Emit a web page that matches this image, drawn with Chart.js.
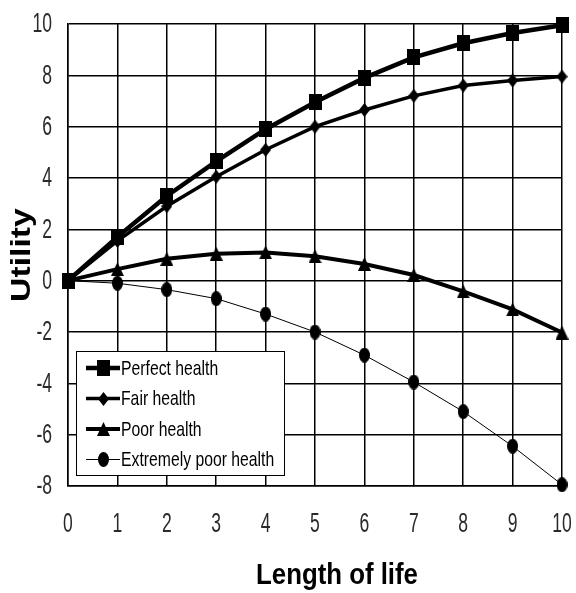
<!DOCTYPE html>
<html>
<head>
<meta charset="utf-8">
<style>
  html, body { margin: 0; padding: 0; background: #fff; }
  #wrap { width: 576px; height: 593px; }
</style>
<script src="https://cdn.jsdelivr.net/npm/chart.js@4.4.0/dist/chart.umd.min.js"></script>
</head>
<body>
<div id="wrap"><canvas id="chart" width="576" height="593"></canvas></div>
<script>
// data
const years = [0, 1, 2, 3, 4, 5, 6, 7, 8, 9, 10];
const perfectHealth = [0, 1.7, 3.3, 4.65, 5.9, 6.95, 7.9, 8.7, 9.25, 9.65, 9.95];
const fairHealth = [0, 1.55, 2.9, 4.05, 5.1, 6.0, 6.65, 7.2, 7.6, 7.8, 7.95];
const poorHealth = [0, 0.45, 0.85, 1.05, 1.1, 0.95, 0.65, 0.22, -0.42, -1.12, -2.02];
const extremelyPoorHealth = [0, -0.1, -0.35, -0.7, -1.3, -2.0, -2.9, -3.95, -5.1, -6.45, -7.95];

const seriesLabels = ['Perfect health', 'Fair health', 'Poor health', 'Extremely poor health'];
const xTitle = 'Length of life';
const yTitle = 'Utility';

const sans = '"Liberation Sans", Arial, sans-serif';

// the original picture is stretched upwards, so markers are taller than wide
function marker(w, h, shape) {
  const c = document.createElement('canvas');
  c.width = w;
  c.height = h;
  const g = c.getContext('2d');
  g.fillStyle = '#000';
  g.beginPath();
  if (shape === 'square') {
    g.rect(0, 0, w, h);
  } else if (shape === 'diamond') {
    g.moveTo(w / 2, 0); g.lineTo(w, h / 2); g.lineTo(w / 2, h); g.lineTo(0, h / 2);
  } else if (shape === 'triangle') {
    g.moveTo(w / 2, 0); g.lineTo(w, h); g.lineTo(0, h);
  } else {
    g.ellipse(w / 2, h / 2, w / 2, h / 2, 0, 0, Math.PI * 2);
  }
  g.closePath();
  g.fill();
  return c;
}

function pts(vals) {
  return vals.map((v, i) => ({ x: years[i], y: v }));
}

const datasets = [
  { label: seriesLabels[0], data: pts(perfectHealth), borderWidth: 4.5, pointStyle: marker(13, 16, 'square') },
  { label: seriesLabels[1], data: pts(fairHealth), borderWidth: 3.5, pointStyle: marker(11, 14, 'diamond') },
  { label: seriesLabels[2], data: pts(poorHealth), borderWidth: 4, pointStyle: marker(13, 14, 'triangle') },
  { label: seriesLabels[3], data: pts(extremelyPoorHealth), borderWidth: 1, pointStyle: marker(11, 15, 'circle') }
].map(d => Object.assign(d, {
  borderColor: '#000',
  backgroundColor: '#000',
  pointRadius: 6,
  pointHoverRadius: 6,
  tension: 0,
  clip: false
}));

function squeezedText(ctx, text, x, y, font, sx, align, rot) {
  ctx.save();
  ctx.translate(x, y);
  if (rot) ctx.rotate(rot);
  ctx.scale(sx, 1);
  ctx.font = font;
  ctx.textAlign = align;
  ctx.textBaseline = 'middle';
  ctx.fillText(text, 0, 0);
  ctx.restore();
}

// tick labels, axis titles and the boxed legend
const decorations = {
  id: 'decorations',
  afterDraw(chart) {
    const ctx = chart.ctx;
    const xs = chart.scales.x, ys = chart.scales.y;
    ctx.save();
    ctx.fillStyle = '#2a2a2a';
    xs.ticks.forEach(t => {
      squeezedText(ctx, String(t.value), xs.getPixelForValue(t.value), 525, '27px ' + sans, 0.65, 'center');
    });
    ys.ticks.forEach(t => {
      squeezedText(ctx, String(t.value), 52, ys.getPixelForValue(t.value) + 1, '27px ' + sans, 0.65, 'right');
    });
    ctx.fillStyle = '#000';
    squeezedText(ctx, xTitle, 337, 576, 'bold 30px ' + sans, 0.86, 'center');
    squeezedText(ctx, yTitle, 23, 255, 'bold 27px ' + sans, 1.25, 'center', -Math.PI / 2);

    const x0 = 76, y0 = 351, w = 208, h = 124;
    ctx.fillStyle = '#fff';
    ctx.fillRect(x0, y0, w, h);
    ctx.strokeStyle = '#000';
    ctx.lineWidth = 1;
    ctx.strokeRect(x0 + 0.5, y0 + 0.5, w, h);
    chart.data.datasets.forEach((ds, i) => {
      const y = y0 + 17 + i * 30.5;
      ctx.strokeStyle = '#000';
      ctx.lineWidth = ds.borderWidth;
      ctx.beginPath();
      ctx.moveTo(x0 + 10, y);
      ctx.lineTo(x0 + 44, y);
      ctx.stroke();
      const img = ds.pointStyle;
      ctx.drawImage(img, Math.round(x0 + 27 - img.width / 2), Math.round(y - img.height / 2));
      ctx.fillStyle = '#000';
      squeezedText(ctx, ds.label, x0 + 45, y + 1, '21px ' + sans, 0.75, 'left');
    });
    ctx.restore();
  }
};

new Chart(document.getElementById('chart'), {
  type: 'line',
  data: { datasets: datasets },
  plugins: [decorations],
  options: {
    responsive: false,
    animation: false,
    events: [],
    layout: { padding: { top: 24, right: 14, left: 0, bottom: 0 } },
    plugins: {
      legend: { display: false },
      tooltip: { enabled: false }
    },
    scales: {
      x: {
        type: 'linear',
        min: 0,
        max: 10,
        afterFit(scale) { scale.height = 107; },
        ticks: { stepSize: 1, display: false },
        grid: { color: '#000', lineWidth: 1.5, drawTicks: false },
        border: { color: '#000', width: 1.5 }
      },
      y: {
        min: -8,
        max: 10,
        afterFit(scale) { scale.width = 68; },
        ticks: { stepSize: 2, display: false },
        grid: { color: '#000', lineWidth: 1.5, drawTicks: false },
        border: { color: '#000', width: 1.5 }
      }
    }
  }
});
</script>
</body>
</html>
